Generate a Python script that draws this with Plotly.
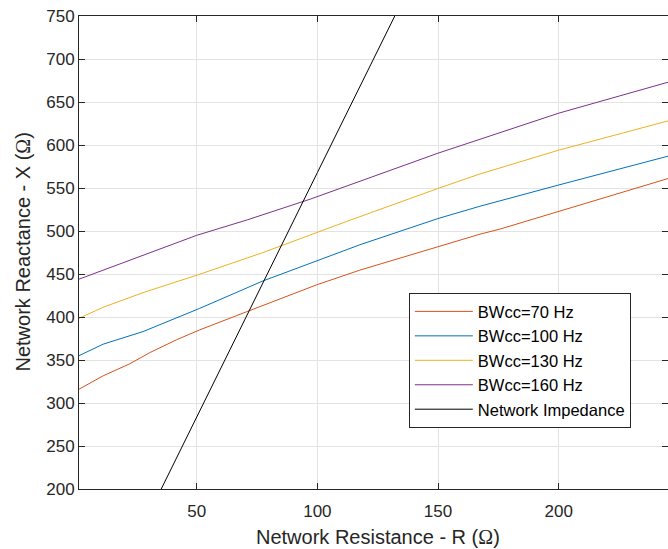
import plotly.graph_objects as go

# Network Resistance R (ohm) / Network Reactance X (ohm)
r_70 = [1.2, 11.2, 22.2, 30.5, 41.6, 51.2, 70.6, 99.6, 117.6, 150, 167, 176, 200, 245.3]
x_70 = [316, 331.6, 345.5, 358.5, 373.5, 385, 406, 437.3, 454.5, 481.7, 496, 502.5, 523, 561]

r_100 = [1.2, 11.2, 27.7, 43, 51.2, 77.5, 100, 117.6, 150, 167, 200, 245.3]
x_100 = [355, 368.4, 383, 400.4, 410, 442, 465.5, 484, 514.5, 528.5, 553.5, 587]

r_130 = [1.2, 11.2, 27.7, 51.2, 77.5, 100, 112, 150, 167, 200, 245.3]
x_130 = [398.5, 411.3, 428.3, 449.7, 475, 499, 511, 549.5, 566, 594, 628]

r_160 = [1.2, 11.2, 32, 50, 71, 97, 150, 167, 200, 245.3]
x_160 = [444, 454.6, 476, 495, 513, 537, 590.5, 606.5, 637, 673]

r_net = [30, 50, 100, 140]
x_net = [170, 284, 568, 795]

names = ["BWcc=70 Hz", "BWcc=100 Hz", "BWcc=130 Hz", "BWcc=160 Hz", "Network Impedance"]
colors = ["#D95319", "#0072BD", "#EDB120", "#7E2F8E", "#000000"]
series = [(r_70, x_70), (r_100, x_100), (r_130, x_130), (r_160, x_160), (r_net, x_net)]

x_ticks = [50, 100, 150, 200]
y_ticks = [200, 250, 300, 350, 400, 450, 500, 550, 600, 650, 700, 750]

FONT = "Liberation Sans, Arial, Helvetica, sans-serif"
AX = "#262626"

fig = go.Figure()
for (rx, ry), nm, c in zip(series, names, colors):
    fig.add_trace(go.Scatter(x=rx, y=ry, mode="lines", name=nm,
                             line=dict(color=c, width=1)))

fig.update_layout(
    width=668, height=549,
    margin=dict(l=79, r=0, t=16, b=60),
    paper_bgcolor="white", plot_bgcolor="white",
    font=dict(family=FONT, size=17, color=AX),
    showlegend=True,
    legend=dict(x=0.56, y=0.414, xanchor="left", yanchor="top",
                bgcolor="white", bordercolor=AX, borderwidth=1,
                font=dict(family=FONT, size=16.5, color="#000000"),
                tracegroupgap=0, itemwidth=58),
    xaxis=dict(range=[1.2, 245.3], tickvals=x_ticks, ticks="inside", ticklen=6,
               tickcolor=AX, showline=True, linecolor=AX, linewidth=1, mirror="ticks",
               showgrid=True, gridcolor="#e3e3e3", gridwidth=1, zeroline=False,
               ticklabelstandoff=7, tickfont=dict(size=17, color=AX)),
    yaxis=dict(range=[200, 750], tickvals=y_ticks, ticks="inside", ticklen=6,
               tickcolor=AX, showline=True, linecolor=AX, linewidth=1, mirror="ticks",
               showgrid=True, gridcolor="#e3e3e3", gridwidth=1, zeroline=False,
               tickfont=dict(size=17, color=AX)),
)

omega = '<span style="font-family:Liberation Serif, Times New Roman, serif">Ω</span>'
fig.add_annotation(text=f"Network Resistance - R ({omega})", xref="paper", yref="paper",
                   x=0.5076, y=0, yshift=-48, xanchor="center", yanchor="middle",
                   showarrow=False, font=dict(family=FONT, size=20, color=AX))
fig.add_annotation(text=f"Network Reactance - X ({omega})", xref="paper", yref="paper",
                   x=0, xshift=-57, y=0.5, xanchor="center", yanchor="middle",
                   textangle=-90, showarrow=False, font=dict(family=FONT, size=20, color=AX))

fig.write_html("out.html", config={"displayModeBar": False},
               post_script="document.body.style.margin='0';document.body.style.padding='0';")
